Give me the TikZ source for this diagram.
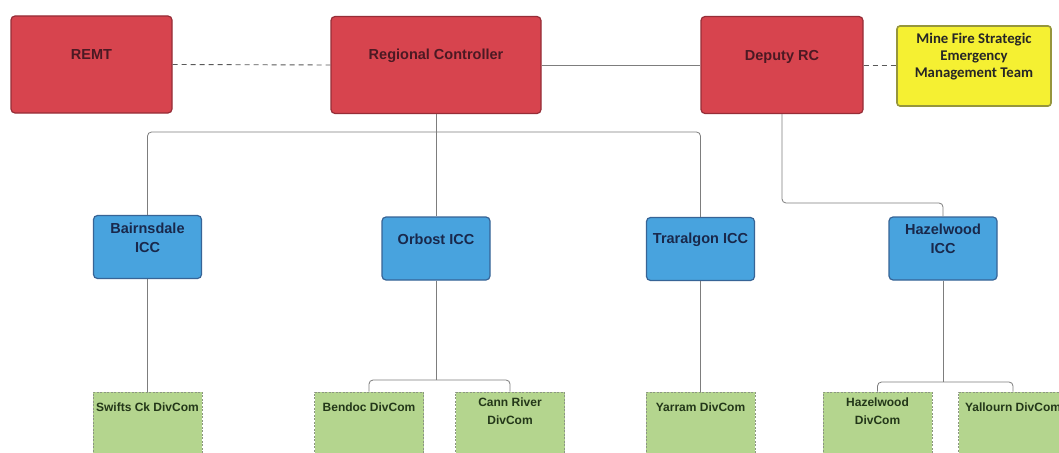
\documentclass[tikz,border=0pt]{standalone}
\usepackage{fontspec}
\setmainfont{Liberation Sans}
\newfontfamily\calib{Carlito}
\definecolor{redfill}{RGB}{215,68,78}
\definecolor{redline}{RGB}{150,45,55}
\definecolor{redtext}{RGB}{75,25,35}
\definecolor{bluefill}{RGB}{72,163,222}
\definecolor{blueline}{RGB}{55,100,150}
\definecolor{bluetext}{RGB}{25,40,75}
\definecolor{greenfill}{RGB}{180,213,142}
\definecolor{greenline}{RGB}{140,150,130}
\definecolor{greentext}{RGB}{35,55,25}
\definecolor{yelfill}{RGB}{245,240,50}
\definecolor{yelline}{RGB}{150,150,60}
\definecolor{conncol}{RGB}{125,125,125}
\tikzset{
  redbox/.style={draw=redline, fill=redfill, line width=1.2pt, rounded corners=4pt,
    minimum height=97pt, inner sep=0pt},
  bluebox/.style={draw=blueline, fill=bluefill, line width=1.2pt, rounded corners=4pt,
    minimum width=108pt, minimum height=63pt, inner sep=0pt},
  greenbox/.style={draw=greenline, fill=greenfill, line width=1pt, dash pattern=on 2pt off 1.5pt,
    minimum width=109pt, minimum height=78pt, inner sep=0pt},
  yelbox/.style={draw=yelline, fill=yelfill, line width=1.6pt, rounded corners=3pt,
    minimum width=154pt, minimum height=80pt, inner sep=0pt},
  rtext/.style={font=\fontsize{14.5}{17}\selectfont\bfseries, text=redtext, align=center},
  btext/.style={font=\fontsize{14.5}{19}\selectfont\bfseries, text=bluetext, align=center},
  gtext/.style={font=\fontsize{12}{18}\selectfont\bfseries, text=greentext, align=center},
  ytext/.style={font=\calib\fontsize{14.8}{17}\selectfont\bfseries, text=black!85, align=center},
  conn/.style={draw=conncol, line width=0.8pt},
  dconn/.style={draw=black!65, line width=0.9pt, dash pattern=on 5pt off 4pt},
}
\begin{document}
\begin{tikzpicture}[x=1pt,y=-1pt]
\useasboundingbox (0,0) rectangle (1059,452);
\clip (0,0) rectangle (1059,452);
\fill[white] (0,0) rectangle (1059,452);

% top row
\node[redbox, minimum width=161pt, label={[rtext,yshift=9.5pt]center:REMT}] (remt) at (91.5,64.5) {};
\node[redbox, minimum width=210pt, label={[rtext,yshift=9.5pt]center:Regional Controller}] (rc) at (436,65) {};
\node[redbox, minimum width=162pt, label={[rtext,yshift=8pt]center:Deputy RC}] (dep) at (782,65) {};
\node[yelbox, label={[ytext,yshift=9pt]center:Mine Fire Strategic\\Emergency\\Management Team}] (mine) at (974,66) {};

% ICC row
\node[bluebox, label={[btext,yshift=9.5pt]center:Bairnsdale\\ICC}] (bairn) at (147.5,247) {};
\node[bluebox, label={[btext,yshift=9.5pt]center:Orbost ICC}] (orb) at (436,248.5) {};
\node[bluebox, label={[btext,yshift=9.5pt]center:Traralgon ICC}] (trar) at (700.5,249) {};
\node[bluebox, label={[btext,yshift=9.5pt]center:Hazelwood\\ICC}] (haz) at (943,248.5) {};

% DivCom row
\node[greenbox, label={[gtext,yshift=24pt]center:Swifts Ck DivCom}] (swifts) at (147.5,431) {};
\node[greenbox, label={[gtext,yshift=24pt]center:Bendoc DivCom}] (bendoc) at (369,431) {};
\node[greenbox, label={[gtext,yshift=20pt]center:Cann River\\DivCom}] (cann) at (510,431) {};
\node[greenbox, label={[gtext,yshift=24pt]center:Yarram DivCom}] (yarram) at (700.5,431) {};
\node[greenbox, label={[gtext,yshift=20pt]center:Hazelwood\\DivCom}] (hazdiv) at (877.5,431) {};
\node[greenbox, label={[gtext,yshift=24pt]center:Yallourn DivCom}] (yall) at (1013,431) {};

% connectors top row
\draw[dconn] (remt.east) -- (rc.west);
\draw[conn] (rc.east) -- (dep.west);
\draw[dconn] (dep.east) -- (mine.west |- dep.east);

% RC to ICCs
\draw[conn] (rc.south) -- (orb.north);
\draw[conn, rounded corners=4pt] (bairn.north) -- (bairn.north |- 0,132) -- (trar.north |- 0,132) -- (trar.north);

% Deputy RC to Hazelwood ICC
\draw[conn, rounded corners=4pt] (dep.south) -- (dep.south |- 0,203) -- (haz.north |- 0,203) -- (haz.north);

% ICCs to DivComs
\draw[conn] (bairn.south) -- (swifts.north);
\draw[conn] (trar.south) -- (yarram.north);
\draw[conn] (orb.south) -- (orb.south |- 0,380);
\draw[conn, rounded corners=4pt] (bendoc.north) -- (bendoc.north |- 0,380) -- (cann.north |- 0,380) -- (cann.north);
\draw[conn] (haz.south) -- (haz.south |- 0,382);
\draw[conn, rounded corners=4pt] (hazdiv.north) -- (hazdiv.north |- 0,382) -- (yall.north |- 0,382) -- (yall.north);
\end{tikzpicture}
\end{document}
